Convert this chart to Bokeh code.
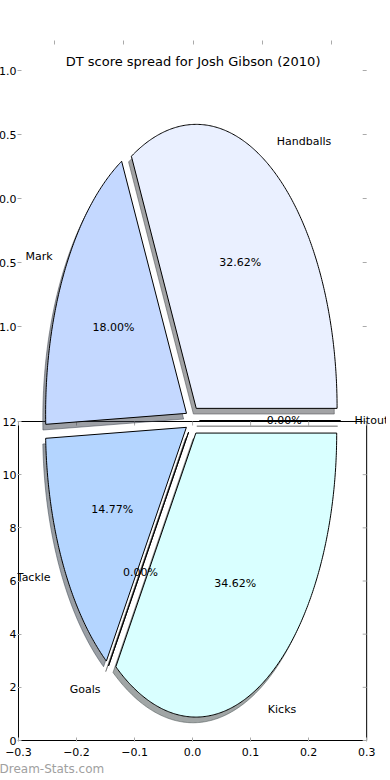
import numpy as np
from bokeh.plotting import figure
from bokeh.models import Range1d, LinearAxis, FixedTicker, ColumnDataSource, LabelSet, Label, Title
from bokeh.core.properties import value
from bokeh.embed import file_html
from bokeh.resources import INLINE

# ---------------- data ----------------
title_text = "DT score spread for Josh Gibson (2010)"
categories = ["Handballs", "Mark", "Tackle", "Goals", "Kicks", "Hitout"]
dt_points = [212, 117, 96, 0, 225, 0]
slice_colors = ["#eaf0ff", "#c4d8ff", "#b4d5ff", "#ffffff", "#d9ffff", "#ffffff"]
explode = [0.05, 0.05, 0.05, 0.05, 0.05, 0.05]

pie_xticks = [-1.0, -0.5, 0.0, 0.5, 1.0]
pie_yticks = [-1.0, -0.5, 0.0, 0.5, 1.0]
pie_ytick_labels = ["1.0", "0.5", "0.0", "0.5", "1.0"]

box_xticks = [-0.3, -0.2, -0.1, 0.0, 0.1, 0.2, 0.3]
box_xtick_labels = ["\u22120.3", "\u22120.2", "\u22120.1", "0.0", "0.1", "0.2", "0.3"]
box_yticks = [0, 2, 4, 6, 8, 10, 12]
box_ytick_labels = ["0", "2", "4", "6", "8", "10", "12"]

watermark = "Dream-Stats.com"

# ---------------- layout (canvas pixels from top-left) ----------------
W, H = 390, 780
DY = 4                                      # canvas sits 4px above the page top
FL, FR, FT, FB = 18, 390, 40 + DY, 741 + DY  # plotting frame edges

# linear anchors: (pixel0, pixel1, value0, value1)
PIE_X = (194.5, 336.5, 0.0, 1.0)
PIE_Y = (420.0 + DY, 136.0 + DY, 0.0, 1.0)
UP_X = (195.0, 335.0, 0.0, 1.0)
UP_Y = (198.0 + DY, 70.0 + DY, 0.0, 1.0)
LO_X = (19.0, 370.0, -0.3, 0.3)
LO_Y = (740.0 + DY, 421.0 + DY, 0.0, 12.0)


def to_val(px, a):
    p0, p1, v0, v1 = a
    return v0 + (px - p0) * (v1 - v0) / (p1 - p0)


def to_px(v, a):
    p0, p1, v0, v1 = a
    return p0 + (v - v0) * (p1 - p0) / (v1 - v0)


def xrange_of(a):
    return Range1d(start=to_val(FL, a), end=to_val(FR, a))


def yrange_of(a):
    return Range1d(start=to_val(FB, a), end=to_val(FT, a))


p = figure(width=W, height=H, x_range=xrange_of(PIE_X), y_range=yrange_of(PIE_Y),
           x_axis_location=None, y_axis_location=None, toolbar_location=None,
           output_backend="svg", min_border_left=FL, min_border_right=W - FR,
           min_border_top=FT, min_border_bottom=H - FB)
p.margin = (-4, -4, -4, -4)
p.outline_line_color = None
p.background_fill_color = "white"
p.border_fill_color = "white"
p.grid.visible = False
p.extra_x_ranges = {"up_x": xrange_of(UP_X), "lo_x": xrange_of(LO_X)}
p.extra_y_ranges = {"up_y": yrange_of(UP_Y), "lo_y": yrange_of(LO_Y)}

TICK_COLOR = "#aaaaaa"
FONT = "DejaVu Sans"


def style_axis(ax, ticks, labels=None):
    ax.ticker = FixedTicker(ticks=list(ticks), minor_ticks=[])
    ax.major_tick_in = 4
    ax.major_tick_out = 0
    ax.minor_tick_in = 0
    ax.minor_tick_out = 0
    ax.major_tick_line_color = TICK_COLOR
    ax.axis_line_color = None
    ax.major_label_text_font = FONT
    ax.major_label_text_font_size = "11px"
    ax.major_label_text_color = "black"
    if labels is None:
        ax.major_label_overrides = {t: "" for t in ticks}
        ax.major_label_text_color = None
    else:
        ax.major_label_overrides = dict(zip(ticks, labels))


# combined vertical ticks: box ticks plus pie-axes ticks expressed in box units
pie_y_in_box = [to_val(to_px(t, UP_Y), LO_Y) for t in pie_yticks]
left_ticks = [float(t) for t in box_yticks] + pie_y_in_box
left_labels = box_ytick_labels + pie_ytick_labels

left_ax = LinearAxis(y_range_name="lo_y")
style_axis(left_ax, left_ticks, left_labels)
left_ax.major_label_standoff = 1
p.add_layout(left_ax, "left")

top_ax = LinearAxis(x_range_name="up_x")
style_axis(top_ax, pie_xticks, None)
p.add_layout(top_ax, "above")

bottom_ax = LinearAxis(x_range_name="lo_x")
style_axis(bottom_ax, box_xticks, box_xtick_labels)
bottom_ax.major_label_standoff = 6
p.add_layout(bottom_ax, "below")

# watermark as a left-aligned caption under the axis
p.add_layout(Title(text=watermark, align="left", offset=-FL, standoff=2,
                   text_font=FONT, text_font_size="12px", text_font_style="normal",
                   text_color="#a0a0a0"), "below")

# box of the lower axes (drawn beneath the pie)
p.quad(left=[box_xticks[0]], right=[box_xticks[-1]], bottom=[box_yticks[0]], top=[box_yticks[-1]],
       fill_color=None, line_color="black", line_width=1,
       x_range_name="lo_x", y_range_name="lo_y")
tick_dx = 4 * (LO_X[3] - LO_X[2]) / (LO_X[1] - LO_X[0])
tick_dy = 4 * (LO_Y[3] - LO_Y[2]) / (LO_Y[0] - LO_Y[1])
# inward ticks on the top edge and right edge of the box
p.segment(x0=box_xticks, x1=box_xticks, y0=[box_yticks[-1]] * len(box_xticks),
          y1=[box_yticks[-1] - tick_dy] * len(box_xticks), line_color=TICK_COLOR,
          x_range_name="lo_x", y_range_name="lo_y")
p.segment(x0=[box_xticks[-1]] * len(box_yticks), x1=[box_xticks[-1] - tick_dx] * len(box_yticks),
          y0=box_yticks, y1=box_yticks, line_color=TICK_COLOR,
          x_range_name="lo_x", y_range_name="lo_y")
# inward ticks on the right edge of the pie axes
up_right = to_val(370, UP_X)
up_dx = 4 * (UP_X[3] - UP_X[2]) / (UP_X[1] - UP_X[0])
p.segment(x0=[up_right] * len(pie_yticks), x1=[up_right - up_dx] * len(pie_yticks),
          y0=pie_yticks, y1=pie_yticks, line_color=TICK_COLOR,
          x_range_name="up_x", y_range_name="up_y")

# ---------------- pie ----------------
total = float(sum(dt_points))
theta = 0.0
wx, wy, sx, sy, sfill = [], [], [], [], []
lab_x, lab_y, lab_align, pct_x, pct_y, pct_txt = [], [], [], [], [], []
for val, ex, col in zip(dt_points, explode, slice_colors):
    frac = val / total
    t1, t2 = theta, theta + 360.0 * frac
    theta = t2
    mid = np.deg2rad(0.5 * (t1 + t2))
    cx, cy = ex * np.cos(mid), ex * np.sin(mid)
    n = max(2, int((t2 - t1) / 0.5) + 2)
    ang = np.deg2rad(np.linspace(t1, t2, n))
    xs = np.concatenate([[cx], cx + np.cos(ang)])
    ys = np.concatenate([[cy], cy + np.sin(ang)])
    wx.append(xs)
    wy.append(ys)
    sx.append(xs - 0.02)
    sy.append(ys - 0.02)
    rgb = [int(col[i:i + 2], 16) for i in (1, 3, 5)]
    sfill.append("#%02x%02x%02x" % tuple(int(0.3 * c) for c in rgb))
    lx, ly = cx + 1.1 * np.cos(mid), cy + 1.1 * np.sin(mid)
    lab_x.append(lx)
    lab_y.append(ly)
    lab_align.append("left" if lx > 0 else "right")
    pct_x.append(cx + 0.6 * np.cos(mid))
    pct_y.append(cy + 0.6 * np.sin(mid))
    pct_txt.append("%.2f%%" % (100.0 * frac))

p.patches(xs=sx, ys=sy, fill_color=sfill, fill_alpha=0.5, line_color=sfill, line_alpha=0.5,
          line_width=1)
p.patches(xs=wx, ys=wy, fill_color=slice_colors, line_color="black", line_width=1)

lab_src = ColumnDataSource(dict(x=lab_x, y=lab_y, text=categories, align=lab_align))
p.add_layout(LabelSet(x="x", y="y", text="text", source=lab_src, text_align="align",
                      text_baseline="middle", text_font=value(FONT),
                      text_font_size=value("11px"), text_color="black"))
pct_src = ColumnDataSource(dict(x=pct_x, y=pct_y, text=pct_txt))
p.add_layout(LabelSet(x="x", y="y", text="text", source=pct_src, text_align="center",
                      text_baseline="middle", text_font=value(FONT),
                      text_font_size=value("11px"), text_color="black"))

# title of the pie axes
p.add_layout(Label(x=0.0, y=to_val(61 + DY, UP_Y), x_range_name="up_x", y_range_name="up_y",
                   text=title_text, text_align="center", text_baseline="middle",
                   text_font=FONT, text_font_size="13px", text_color="black"))

open("out.html", "w").write(file_html(p, INLINE))
